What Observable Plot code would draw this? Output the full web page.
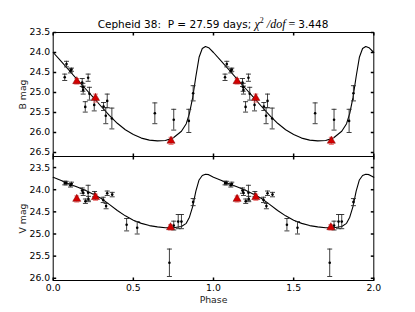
<!DOCTYPE html>
<html>
<head>
<meta charset="utf-8">
<script src="https://cdn.jsdelivr.net/npm/d3@7"></script>
<script src="https://cdn.jsdelivr.net/npm/@observablehq/plot@0.6"></script>
<style>
  html, body { margin: 0; padding: 0; background: white; }
  #wrap { position: relative; width: 415px; height: 312px; background: white; overflow: hidden; }
  #wrap > * { position: absolute; left: 0; }
</style>
</head>
<body>
<div id="wrap">
  <svg id="title" width="415" height="32" style="top:0">
    <text x="213" y="27.5" text-anchor="middle" font-family="DejaVu Sans" font-size="10.5" fill="black" style="white-space:pre">Cepheid 38:  P = 27.59 days; <tspan font-family="Liberation Serif" font-style="italic" font-size="12">χ</tspan><tspan font-family="Liberation Serif" font-size="8" dy="-4.5">2</tspan><tspan dy="4.5" font-family="Liberation Serif" font-style="italic" font-size="12"> /dof</tspan><tspan font-family="Liberation Serif" font-size="12"> = </tspan>3.448</text>
  </svg>
</div>
<script>
// ---- tick values ----
const xTicks = [0, 0.5, 1.0, 1.5, 2.0];
const bTicks = [23.5, 24.0, 24.5, 25.0, 25.5, 26.0, 26.5];
const vTicks = [23.5, 24.0, 24.5, 25.0, 25.5, 26.0];

// ---- B-band template curve (one cycle) ----
const bCurvePhase = [0, 0.05, 0.10, 0.15, 0.20, 0.25, 0.30, 0.35, 0.40, 0.45, 0.50, 0.55, 0.60, 0.65, 0.70, 0.75, 0.80, 0.83, 0.85, 0.87, 0.89, 0.91, 0.93, 0.95, 0.97, 1.00];
const bCurveMag   = [24.00, 24.22, 24.45, 24.68, 24.90, 25.12, 25.35, 25.57, 25.77, 25.93, 26.05, 26.14, 26.19, 26.21, 26.20, 26.13, 25.97, 25.78, 25.52, 25.13, 24.60, 24.12, 23.90, 23.85, 23.88, 24.00];

// ---- V-band template curve (one cycle) ----
const vCurvePhase = [0, 0.05, 0.10, 0.15, 0.20, 0.25, 0.30, 0.35, 0.40, 0.45, 0.50, 0.55, 0.60, 0.65, 0.70, 0.75, 0.80, 0.83, 0.85, 0.87, 0.89, 0.91, 0.93, 0.95, 0.97, 1.00];
const vCurveMag   = [23.72, 23.79, 23.87, 23.94, 24.01, 24.10, 24.20, 24.33, 24.47, 24.59, 24.69, 24.76, 24.81, 24.84, 24.86, 24.86, 24.83, 24.76, 24.62, 24.38, 24.03, 23.78, 23.68, 23.65, 23.66, 23.72];

// ---- B-band observations (black) ----
const bPhase = [0.072, 0.083, 0.108, 0.114, 0.181, 0.185, 0.187, 0.200, 0.218, 0.226, 0.256, 0.314, 0.337, 0.328, 0.366, 0.634, 0.752, 0.846, 0.873];
const bMag   = [24.62, 24.29, 24.46, 24.43, 24.75, 24.87, 24.94, 25.36, 24.63, 25.03, 25.31, 25.35, 25.21, 25.58, 25.65, 25.52, 25.68, 25.71, 25.02];
const bErr   = [0.08, 0.07, 0.05, 0.04, 0.10, 0.10, 0.10, 0.13, 0.09, 0.16, 0.15, 0.10, 0.17, 0.20, 0.26, 0.26, 0.26, 0.29, 0.19];

// ---- B-band observations (red triangles) ----
const rbPhase = [0.147, 0.264, 0.735];
const rbMag   = [24.72, 25.14, 26.21];
const rbErr   = [0.07, 0.10, 0.09];

// ---- V-band observations (black) ----
const vPhase = [0.072, 0.081, 0.108, 0.114, 0.181, 0.187, 0.201, 0.218, 0.220, 0.258, 0.312, 0.337, 0.330, 0.368, 0.458, 0.524, 0.725, 0.752, 0.780, 0.800, 0.873];
const vMag   = [23.85, 23.85, 23.90, 23.87, 24.02, 24.07, 24.26, 24.07, 24.21, 24.10, 24.23, 24.08, 24.37, 24.11, 24.79, 24.86, 25.65, 24.81, 24.72, 24.72, 24.28];
const vErr   = [0.04, 0.04, 0.04, 0.04, 0.06, 0.06, 0.05, 0.17, 0.06, 0.06, 0.06, 0.05, 0.06, 0.05, 0.14, 0.14, 0.31, 0.10, 0.16, 0.16, 0.08];

// ---- V-band observations (red triangles) ----
const rvPhase = [0.147, 0.264, 0.732];
const rvMag   = [24.21, 24.17, 24.85];
const rvErr   = [0.07, 0.07, 0.06];

// Two cycles are shown: each phase is repeated at phase + 1
const fold = (ph, mg, er) => [0, 1].flatMap(k => ph.map((p, i) => ({x: p + k, y: mg[i], e: er ? er[i] : 0})));
const foldCurve = (ph, mg) => fold(ph, mg).sort((a, b) => a.x - b.x);

// custom path symbols (fixed pixel length)
const cap = {draw(c) { c.moveTo(-2.5, 0); c.lineTo(2.5, 0); }};
const tickUp = {draw(c) { c.moveTo(0, 0); c.lineTo(0, -3); }};
const tickDown = {draw(c) { c.moveTo(0, 0); c.lineTo(0, 3); }};
const tickRight = {draw(c) { c.moveTo(0, 0); c.lineTo(3, 0); }};
const tickLeft = {draw(c) { c.moveTo(0, 0); c.lineTo(-3, 0); }};

function panel({curve, pts, red, yDomain, yTicks, label, height, mt, mb, showX}) {
  const errMarks = (data, color) => [
    Plot.ruleX(data, {x: "x", y1: d => d.y - d.e, y2: d => d.y + d.e, stroke: color, strokeWidth: 0.9}),
    Plot.dot(data, {x: "x", y: d => d.y - d.e, symbol: cap, fill: "none", stroke: color, strokeWidth: 0.9}),
    Plot.dot(data, {x: "x", y: d => d.y + d.e, symbol: cap, fill: "none", stroke: color, strokeWidth: 0.9})
  ];
  const marks = [
    Plot.line(curve, {x: "x", y: "y", stroke: "black", strokeWidth: 1.1}),
    ...errMarks(pts, "#2a2a2a"),
    Plot.dot(pts, {x: "x", y: "y", r: 1.3, fill: "black", stroke: "none"}),
    ...errMarks(red, "#f06a6a"),
    Plot.dot(red, {x: "x", y: "y", symbol: "triangle", r: 3, fill: "#d40000", stroke: "#7a0000", strokeWidth: 0.5}),
    Plot.frame({stroke: "black", strokeWidth: 1}),
    Plot.dot(xTicks, {x: d => d, y: () => yDomain[0], symbol: tickDown, fill: "none", stroke: "black"}),
    Plot.dot(xTicks, {x: d => d, y: () => yDomain[1], symbol: tickUp, fill: "none", stroke: "black"}),
    Plot.dot(yTicks, {x: () => 0, y: d => d, symbol: tickRight, fill: "none", stroke: "black"}),
    Plot.dot(yTicks, {x: () => 2, y: d => d, symbol: tickLeft, fill: "none", stroke: "black"}),
    Plot.text([label], {frameAnchor: "left", dx: -30, rotate: -90, textAnchor: "middle", lineAnchor: "middle", fill: "#222"})
  ];
  if (showX) marks.push(Plot.text(["Phase"], {frameAnchor: "bottom", dy: 19.5, textAnchor: "middle", lineAnchor: "middle", fill: "#222"}));
  return Plot.plot({
    width: 415, height,
    marginLeft: 52.7, marginRight: 41.7, marginTop: mt, marginBottom: mb,
    style: {fontFamily: "DejaVu Sans", fontSize: "9.3px", background: "transparent", overflow: "visible", color: "black"},
    x: {domain: [0, 2], ticks: xTicks, tickFormat: ".1f", tickSize: 0, tickPadding: 4, label: null, axis: showX ? "bottom" : null},
    y: {domain: yDomain, reverse: true, ticks: yTicks, tickFormat: ".1f", tickSize: 0, tickPadding: 3, label: null},
    marks
  });
}

const topPanel = panel({
  curve: foldCurve(bCurvePhase, bCurveMag),
  pts: fold(bPhase, bMag, bErr),
  red: fold(rbPhase, rbMag, rbErr),
  yDomain: [23.5, 26.6], yTicks: bTicks, label: "B mag",
  height: 156, mt: 32, mb: 0, showX: false
});
const bottomPanel = panel({
  curve: foldCurve(vCurvePhase, vCurveMag),
  pts: fold(vPhase, vMag, vErr),
  red: fold(rvPhase, rvMag, rvErr),
  yDomain: [23.25, 26.05], yTicks: vTicks, label: "V mag",
  height: 156, mt: 0, mb: 32, showX: true
});
topPanel.style.top = "0px";
bottomPanel.style.top = "156px";
const wrap = document.getElementById("wrap");
wrap.appendChild(topPanel);
wrap.appendChild(bottomPanel);
</script>
</body>
</html>
